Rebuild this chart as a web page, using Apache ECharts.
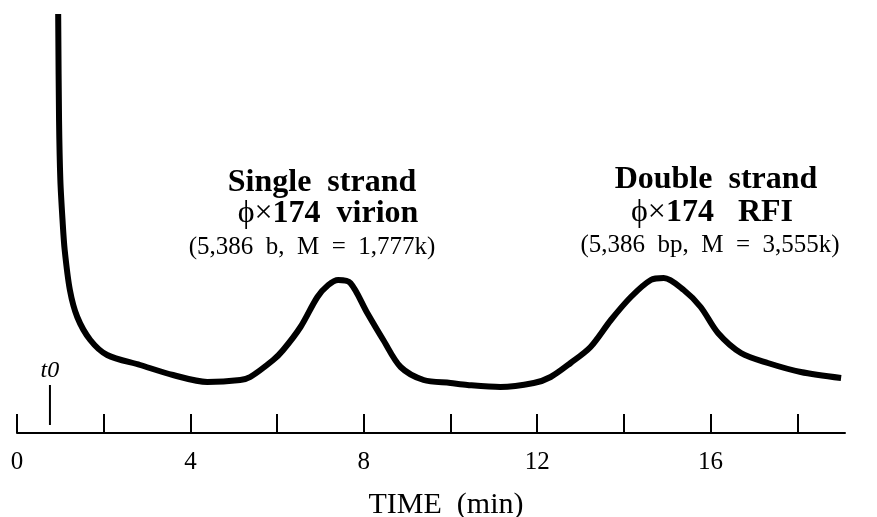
<!DOCTYPE html>
<html>
<head>
<meta charset="utf-8">
<script src="https://cdn.jsdelivr.net/npm/echarts@6/dist/echarts.min.js"></script>
<style>
  html, body { margin: 0; padding: 0; background: #fff; }
  #chart { width: 877px; height: 517px; }
</style>
</head>
<body>
<div id="chart"></div>
<script>
// elution trace, time in minutes, detector signal in arbitrary units
var time = [0.95, 0.97, 1.0, 1.05, 1.1, 1.22, 1.39, 1.69, 2.08, 2.84, 3.6, 4.39, 5.15, 5.38,
    5.91, 6.14, 6.54, 6.93, 7.18, 7.41, 7.69, 8.08, 8.45, 8.85, 9.38, 10.0, 10.39, 11.15,
    11.92, 12.31, 12.77, 13.23, 13.7, 14.16, 14.62, 14.92, 15.38, 15.77, 16.17, 16.7, 17.32,
    18.08, 19.01];
var signal = [41.9, 31.3, 25.3, 21.3, 18.3, 14.3, 11.6, 9.3, 7.8, 6.8, 5.8, 5.1, 5.3, 5.6,
    7.3, 8.3, 10.6, 13.6, 14.8, 15.3, 15.0, 12.0, 9.3, 6.6, 5.3, 5.0, 4.8, 4.6,
    5.0, 5.6, 7.0, 8.6, 11.3, 13.6, 15.3, 15.5, 14.3, 12.6, 10.0, 8.0, 7.0,
    6.1, 5.5];

var tickValues = [0, 2, 4, 6, 8, 10, 12, 14, 16, 18];
var labelValues = [0, 4, 8, 12, 16];

var t0Time = 0.76;
var t0Span = [0.8, 4.8];

var serif = '"Liberation Serif", "Times New Roman", serif';

var chart = echarts.init(document.getElementById('chart'));

var option = {
    animation: false,
    backgroundColor: '#fff',
    grid: { left: 17, right: 32, top: 14, bottom: 84, outerBoundsMode: 'none', containLabel: false },
    xAxis: {
        type: 'value',
        min: 0,
        max: 19.1,
        name: 'TIME  (min)',
        nameLocation: 'middle',
        nameGap: 57,
        nameTextStyle: { fontFamily: serif, fontSize: 30, color: '#000', padding: [0, 0, 0, 30] },
        axisLine: { show: true, lineStyle: { color: '#000', width: 2 } },
        axisTick: { show: true, inside: true, length: 19, customValues: tickValues,
            lineStyle: { color: '#000', width: 2 } },
        axisLabel: { customValues: labelValues, margin: 17, fontFamily: serif,
            fontSize: 25, color: '#000' },
        splitLine: { show: false }
    },
    yAxis: {
        type: 'value',
        min: 0,
        max: 41.9,
        show: false
    },
    series: [
        {
            name: 'trace',
            type: 'line',
            data: time.map(function(t, i) { return [t, signal[i]]; }),
            showSymbol: false,
            smooth: 0.3,
            clip: false,
            lineStyle: { color: '#000', width: 6 },
            z: 3
        },
        {
            name: 't0',
            type: 'line',
            showSymbol: true,
            symbolSize: 0.01,
            data: [
                [t0Time, t0Span[0]],
                { value: [t0Time, t0Span[1]],
                  label: { show: true, position: 'top', distance: 1,
                      formatter: 't0', fontFamily: serif, fontStyle: 'italic',
                      fontSize: 24, color: '#000' } }
            ],
            lineStyle: { color: '#000', width: 2 }
        }
    ],
    graphic: [
        { type: 'text', x: 322, y: 183, style: { text: 'Single  strand', font: 'bold 32px ' + serif,
            fill: '#000', align: 'center', verticalAlign: 'middle' } },
        { type: 'text', x: 328, y: 214, style: { text: '{n|\u03d5\u00d7}{b|174  virion}',
            fill: '#000', align: 'center', verticalAlign: 'middle',
            rich: { n: { font: '32px ' + serif }, b: { font: 'bold 32px ' + serif } } } },
        { type: 'text', x: 312, y: 247, style: { text: '(5,386  b,  M  =  1,777k)', font: '25px ' + serif,
            fill: '#000', align: 'center', verticalAlign: 'middle' } },
        { type: 'text', x: 716, y: 180, style: { text: 'Double  strand', font: 'bold 32px ' + serif,
            fill: '#000', align: 'center', verticalAlign: 'middle' } },
        { type: 'text', x: 712, y: 213, style: { text: '{n|\u03d5\u00d7}{b|174   RFI}',
            fill: '#000', align: 'center', verticalAlign: 'middle',
            rich: { n: { font: '32px ' + serif }, b: { font: 'bold 32px ' + serif } } } },
        { type: 'text', x: 710, y: 245, style: { text: '(5,386  bp,  M  =  3,555k)', font: '25px ' + serif,
            fill: '#000', align: 'center', verticalAlign: 'middle' } }
    ]
};

chart.setOption(option);
</script>
</body>
</html>
